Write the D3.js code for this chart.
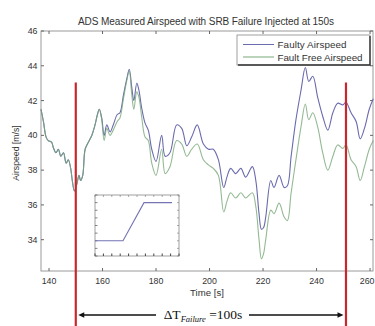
<!DOCTYPE html>
<html><head><meta charset="utf-8">
<script src="https://cdn.jsdelivr.net/npm/d3@7"></script>
<style>
html,body{margin:0;padding:0;background:#fff;}
svg{display:block;font-family:"Liberation Sans",Arial,sans-serif;}
</style></head>
<body><svg id="c" width="375" height="326"></svg>
<script>
const titleText = "ADS Measured Airspeed with SRB Failure Injected at 150s";
const xLabel = "Time [s]";
const yLabel = "Airspeed [m/s]";
const seriesNames = ["Faulty Airspeed", "Fault Free Airspeed"];
const xTicks = [140,160,180,200,220,240,260];
const yTicks = [34,36,38,40,42,44,46];
const failureMarks = [150, 251];
const deltaLabel = ["\u0394T", "Failure", " =100s"];

const times = [137.0,137.9,138.9,139.7,141.0,141.6,142.6,143.5,144.4,145.4,146.4,147.2,148.1,148.7,149.5,150.4,151.2,151.8,152.6,153.5,154.7,156.0,157.2,158.1,158.8,159.7,160.6,161.6,162.8,164.0,165.5,166.5,167.8,169.0,170.0,170.9,171.7,172.8,173.6,174.6,175.9,177.1,178.4,180.0,182.1,183.4,185.2,187.7,189.6,191.5,193.3,195.4,197.7,199.6,201.4,203.3,205.3,206.5,207.9,209.8,211.7,213.5,216.0,217.3,218.5,219.4,220.2,221.0,222.9,224.1,226.0,227.9,229.1,230.5,232.3,234.2,235.8,237.1,238.6,240.4,242.3,244.2,246.1,247.9,249.8,251.0,252.9,254.8,256.3,257.9,259.7,261.2];
const faultyAirspeed = [41.5,40.8,39.9,39.7,39.6,39.3,39.0,39.2,38.8,39.0,38.4,38.6,38.1,37.4,36.8,37.2,37.7,37.4,37.7,39.2,39.6,40.0,40.6,41.2,41.5,41.0,40.0,40.6,40.2,40.6,41.2,41.3,42.3,43.2,43.8,42.8,42.0,43.0,42.6,41.6,40.7,40.3,39.2,38.5,40.0,38.8,39.0,40.6,40.4,39.4,39.9,40.6,39.5,39.2,39.2,38.6,37.0,37.6,38.1,37.8,38.1,37.6,38.2,37.4,35.5,34.6,34.7,35.3,37.4,37.0,37.7,37.0,37.1,38.8,40.9,42.6,43.9,43.1,43.4,42.2,41.1,40.3,41.3,41.85,41.75,41.9,41.3,40.8,39.8,40.4,41.5,42.1];
const faultFreeAirspeed = [41.5,40.8,39.9,39.7,39.6,39.3,39.0,39.2,38.8,39.0,38.4,38.6,38.1,37.4,36.8,37.2,37.7,37.4,37.7,39.2,39.6,40.0,40.6,41.2,41.5,40.9,39.7,40.4,40.0,40.3,40.8,41.0,42.1,43.1,43.7,42.4,41.5,42.5,42.2,41.1,39.9,39.7,38.4,37.7,39.2,37.8,38.2,39.7,39.5,38.8,39.2,39.5,38.6,38.3,38.1,37.7,35.6,36.2,36.7,36.4,36.7,36.4,36.7,35.9,34.0,32.9,33.2,34.0,35.7,35.5,36.1,35.3,35.1,36.7,38.6,40.5,41.8,40.9,41.3,40.5,39.0,38.0,38.8,39.45,39.25,39.45,38.6,38.2,37.4,38.2,39.2,39.7];

// inset (failure ramp)
const insetX = [0, 4, 7, 11];
const insetY = [2, 2, 7, 7];

const svg = d3.select("#c");
const L = 41, R = 373, T = 31, B = 271;
const x = d3.scaleLinear().domain([137, 261.1]).range([L, R]);
const y = d3.scaleLinear().domain([32.2, 46]).range([B, T]);

const axisCol = "#9a9a9a", textCol = "#333";

// title
svg.append("text").attr("x", 206).attr("y", 25).attr("text-anchor","middle")
  .attr("font-size", 10).attr("textLength", 256).attr("lengthAdjust","spacing")
  .attr("fill", textCol).text(titleText);

// plot frame
const g = svg.append("g");
g.append("rect").attr("x", L).attr("y", T).attr("width", R-L).attr("height", B-T)
  .attr("fill","none").attr("stroke", axisCol).attr("stroke-width", 1);

// ticks (inward)
const tl = 3;
xTicks.forEach((t,i) => {
  g.append("line").attr("x1", x(t)).attr("x2", x(t)).attr("y1", B).attr("y2", B-tl).attr("stroke","#666");
  g.append("line").attr("x1", x(t)).attr("x2", x(t)).attr("y1", T).attr("y2", T+tl).attr("stroke","#666");
  const last = i === xTicks.length-1;
  g.append("text").attr("x", last ? 374.5 : x(t)).attr("y", 284)
    .attr("text-anchor", last ? "end" : "middle")
    .attr("font-size", 8.8).attr("fill", textCol).text(t);
});
yTicks.forEach(v => {
  g.append("line").attr("x1", L).attr("x2", L+tl).attr("y1", y(v)).attr("y2", y(v)).attr("stroke","#666");
  g.append("line").attr("x1", R).attr("x2", R-tl).attr("y1", y(v)).attr("y2", y(v)).attr("stroke","#666");
  g.append("text").attr("x", 37.5).attr("y", y(v)+3).attr("text-anchor","end")
    .attr("font-size", 8.8).attr("fill", textCol).text(v);
});

// axis labels
svg.append("text").attr("x", 207).attr("y", 295.5).attr("text-anchor","middle")
  .attr("font-size", 9.6).attr("fill", textCol).text(xLabel);
svg.append("text").attr("transform","translate(19,153) rotate(-90)").attr("text-anchor","middle")
  .attr("font-size", 8.7).attr("fill", textCol).text(yLabel);

// lines
const line = d3.line().x((d,i)=>x(times[i])).y(d=>y(d)).curve(d3.curveCatmullRom.alpha(0.5));
g.append("path").datum(faultyAirspeed).attr("d", line).attr("fill","none")
  .attr("stroke","#6a6aae").attr("stroke-width",1.1);
g.append("path").datum(faultFreeAirspeed).attr("d", line).attr("fill","none")
  .attr("stroke","#78a878").attr("stroke-width",1.1).attr("stroke-opacity",0.8);

// legend
const lg = svg.append("g");
lg.append("rect").attr("x",237).attr("y",35).attr("width",133).attr("height",30)
  .attr("fill","#fff").attr("stroke","#888").attr("stroke-width",0.8);
lg.append("polyline").attr("points","370,36 370,65 238,65").attr("fill","none")
  .attr("stroke","#333").attr("stroke-width",1.4);
[["#6a6aae",44.5, 69],["#78a878",57, 85]].forEach((c,i)=>{
  lg.append("line").attr("x1",243).attr("x2",274).attr("y1",c[1]).attr("y2",c[1])
    .attr("stroke",c[0]).attr("stroke-width",1);
  lg.append("text").attr("x",277.5).attr("y",c[1]+3.5).attr("font-size",9.8)
    .attr("textLength", c[2]).attr("lengthAdjust","spacing")
    .attr("fill",textCol).text(seriesNames[i]);
});

// inset
const ix = d3.scaleLinear().domain([0,12]).range([95,179]);
const iy = d3.scaleLinear().domain([0,8]).range([256,195]);
const ig = svg.append("g");
ig.append("rect").attr("x",95).attr("y",195).attr("width",84).attr("height",61)
  .attr("fill","#fff").attr("stroke","#888").attr("stroke-width",0.8);
d3.range(0,13,1.2).forEach(v=>{
  ig.append("line").attr("x1",ix(v)).attr("x2",ix(v)).attr("y1",256).attr("y2",253.5).attr("stroke","#444").attr("stroke-width",1);
  ig.append("line").attr("x1",ix(v)).attr("x2",ix(v)).attr("y1",195).attr("y2",197).attr("stroke","#888").attr("stroke-width",0.7);
});
d3.range(0,9,1).forEach(v=>{
  ig.append("line").attr("x1",95).attr("x2",97.5).attr("y1",iy(v)).attr("y2",iy(v)).attr("stroke","#666").attr("stroke-width",0.8);
  ig.append("line").attr("x1",179).attr("x2",177).attr("y1",iy(v)).attr("y2",iy(v)).attr("stroke","#888").attr("stroke-width",0.7);
});
ig.append("path").datum(insetX.map((d,i)=>[d,insetY[i]]))
  .attr("d", d3.line().x(d=>ix(d[0])).y(d=>iy(d[1])))
  .attr("fill","none").attr("stroke","#7474b4").attr("stroke-width",1.1);

// failure red lines
failureMarks.forEach(t=>{
  svg.append("line").attr("x1",x(t)).attr("x2",x(t)).attr("y1",82.5).attr("y2",326)
    .attr("stroke","#c8282d").attr("stroke-width",2.2);
});

// delta T arrow
const ay = 315;
const a0 = x(failureMarks[0]) + 2.5, a1 = x(failureMarks[1]) - 2.5;
svg.append("line").attr("x1",a0+5).attr("x2",156).attr("y1",ay).attr("y2",ay).attr("stroke","#111").attr("stroke-width",1.3);
svg.append("line").attr("x1",249).attr("x2",a1-5).attr("y1",ay).attr("y2",ay).attr("stroke","#111").attr("stroke-width",1.3);
svg.append("path").attr("d",`M${a0},${ay} l6,-2.8 l0,5.6 z`).attr("fill","#111");
svg.append("path").attr("d",`M${a1},${ay} l-6,-2.8 l0,5.6 z`).attr("fill","#111");
const dt = svg.append("text").attr("x",203).attr("y",319).attr("text-anchor","middle")
  .attr("font-family","'Liberation Serif','Times New Roman',serif").attr("fill","#111");
dt.append("tspan").attr("font-size",13.5).text(deltaLabel[0]);
dt.append("tspan").attr("font-size",8.5).attr("font-style","italic").attr("dy",2.5).text(deltaLabel[1]);
dt.append("tspan").attr("font-size",13.5).attr("dy",-2.5).text(deltaLabel[2]);
</script></body></html>
